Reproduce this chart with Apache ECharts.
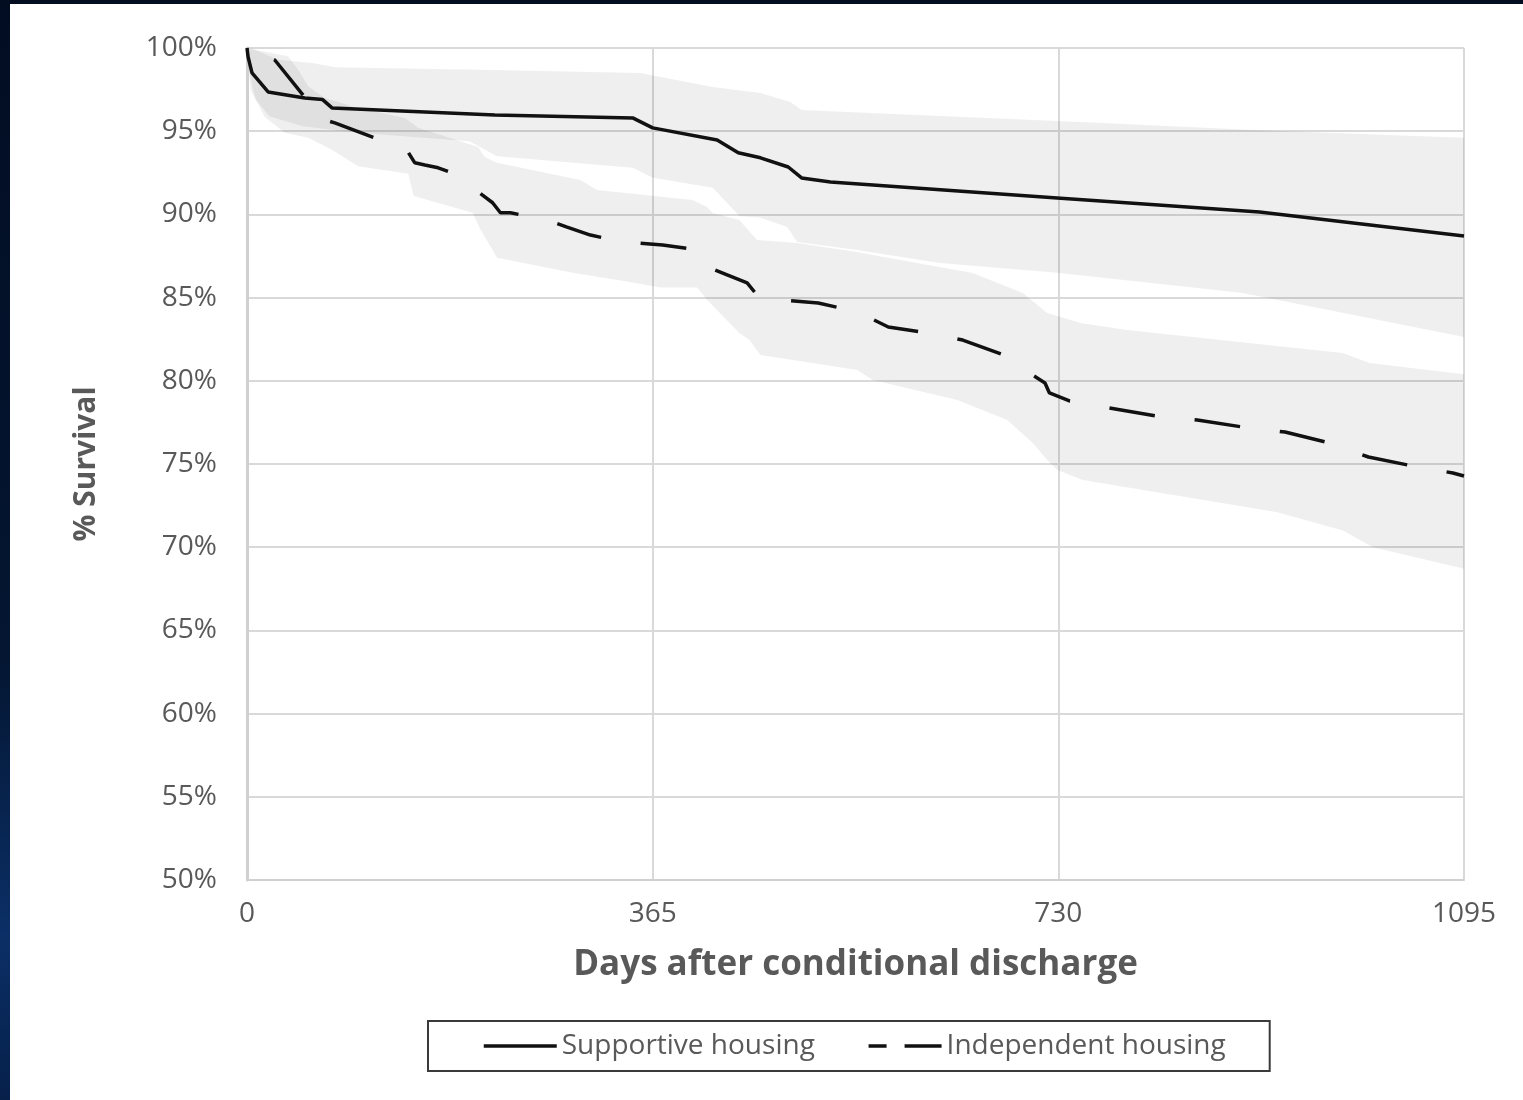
<!DOCTYPE html>
<html>
<head>
<meta charset="utf-8">
<script src="https://cdn.jsdelivr.net/npm/echarts@6/dist/echarts.min.js"></script>
<style>
  html, body { margin: 0; padding: 0; }
  body {
    width: 1523px; height: 1100px; overflow: hidden;
    background: linear-gradient(180deg, #020d22 0%, #041632 60%, #0b2f66 85%, #06204a 100%);
  }
  #chart { position: absolute; left: 10px; top: 4px; width: 1513px; height: 1096px; background: #ffffff; }
</style>
</head>
<body>
<div id="chart"></div>
<script>
// ---- Data ----
const seriesNames = ['Supportive housing', 'Independent housing'];
const xTicks = [0, 365, 730, 1095];

const supportiveDays = [0, 1, 4.5, 19, 52, 68, 76.5, 223, 347, 365, 423, 442, 462, 487, 499, 525, 729, 911, 1095];
const supportiveSurv = [100, 99.46, 98.5, 97.36, 97.0, 96.9, 96.4, 95.97, 95.8, 95.2, 94.47, 93.7, 93.4, 92.85, 92.19, 91.95, 90.99, 90.14, 88.7];

const independentDays = [0, 5, 25, 54, 58.5, 70, 79, 127, 142, 151, 160, 172, 190, 208, 221, 228, 237, 270, 288, 309, 338, 374, 406, 414, 432, 450, 462, 481, 514, 550, 577, 613, 644, 679, 704, 718, 722, 740, 776, 819, 855, 896, 934, 974, 1009, 1049, 1085, 1095];
const independentSurv = [100, 99.88, 99.28, 96.88, 96.15, 95.67, 95.5, 94.3, 94.05, 93.1, 92.97, 92.8, 92.37, 91.35, 90.7, 90.1, 90.1, 89.66, 89.24, 88.76, 88.34, 88.16, 87.86, 86.84, 86.36, 85.88, 84.9, 84.86, 84.68, 84.13, 83.23, 82.87, 82.45, 81.6, 80.47, 79.87, 79.27, 78.79, 78.37, 77.88, 77.64, 77.22, 76.92, 76.26, 75.42, 74.88, 74.46, 74.28];

// 95% confidence bands
const supportiveUpperDays = [0, 7, 28, 59, 79, 223, 354, 419, 462, 489, 499, 750, 911, 1095];
const supportiveUpperVals = [100, 99.9, 99.3, 99.1, 98.85, 98.68, 98.5, 97.66, 97.3, 96.75, 96.27, 95.55, 95.05, 94.6];
const supportiveLowerDays = [0, 2, 5, 8, 20, 50, 100, 200, 225, 347, 365, 419, 443, 462, 486, 495, 549, 623, 729, 896, 1095];
const supportiveLowerVals = [100, 98.6, 97.6, 96.9, 95.9, 95.3, 94.9, 94.4, 93.5, 92.8, 92.2, 91.6, 89.9, 89.8, 89.24, 88.34, 87.86, 87.08, 86.5, 85.28, 82.63];

const independentUpperDays = [0, 7, 37, 46, 55, 70, 97, 142, 154, 208, 214, 225, 300, 315, 401, 414, 419, 443, 459, 495, 549, 563, 653, 698, 720, 750, 792, 986, 1010, 1095];
const independentUpperVals = [100, 99.9, 99.5, 98.7, 97.7, 97.0, 96.45, 95.8, 95.2, 94.05, 93.45, 93.1, 92.07, 91.47, 90.87, 90.44, 90.08, 89.66, 88.46, 88.28, 87.74, 87.56, 86.48, 85.28, 84.07, 83.47, 83.05, 81.67, 81.07, 80.4];
const independentLowerDays = [0, 3, 16, 34, 55, 76, 100, 145, 150, 203, 210, 225, 293, 347, 372, 405, 414, 443, 452, 462, 549, 563, 639, 684, 707, 720, 729, 752, 927, 986, 1013, 1095];
const independentLowerVals = [100, 97.5, 95.85, 94.9, 94.6, 93.9, 92.9, 92.45, 91.1, 90.1, 89.1, 87.4, 86.5, 85.9, 85.6, 85.6, 84.86, 82.87, 82.45, 81.55, 80.65, 80.05, 78.85, 77.64, 76.26, 75.24, 74.64, 74.04, 72.1, 71.0, 70.0, 68.7];

// a dash of the independent-housing curve begins at this data point in the reference
const dashAnchorIndex = 38;

// ---- Build ----
const zip = (a, b) => a.map((v, i) => [v, b[i]]);
const FONT = '"Open Sans", "DejaVu Sans", sans-serif';
const TXT = '#595959';
const GRID = '#d9d9d9';
const DASH = [46, 40];

function bandSeries(upDays, upVals, loDays, loVals) {
  const upper = zip(upDays, upVals);
  const lower = zip(loDays, loVals);
  return {
    type: 'custom',
    coordinateSystem: 'cartesian2d',
    silent: true,
    clip: true,
    z: 1,
    data: [[0, 100]],
    renderItem: function (params, api) {
      const pts = upper.map(p => api.coord(p)).concat(lower.slice().reverse().map(p => api.coord(p)));
      return { type: 'polygon', shape: { points: pts }, style: { fill: 'rgba(0,0,0,0.063)' } };
    }
  };
}

const chart = echarts.init(document.getElementById('chart'), null, { renderer: 'canvas' });
const indepData = zip(independentDays, independentSurv);

function buildOption(dashOffset) {
  return {
    animation: false,
    backgroundColor: '#ffffff',
    grid: { left: 237, right: 59, top: 44, bottom: 220, containLabel: false },
    xAxis: {
      type: 'value', min: 0, max: 1095, interval: 365,
      name: 'Days after conditional discharge',
      nameLocation: 'middle', nameGap: 68,
      nameTextStyle: { fontFamily: FONT, fontSize: 35, fontWeight: 'bold', color: TXT },
      axisLine: { show: true, lineStyle: { color: '#d0d0d0', width: 2 } },
      axisTick: { show: false },
      axisLabel: { fontFamily: FONT, fontSize: 28, color: TXT, margin: 20,
        formatter: v => (xTicks.indexOf(v) >= 0 ? String(v) : '') },
      splitLine: { show: true, lineStyle: { color: GRID, width: 2 } }
    },
    yAxis: {
      type: 'value', min: 50, max: 100, interval: 5,
      name: '% Survival',
      nameLocation: 'middle', nameGap: 146, nameRotate: 90,
      nameTextStyle: { fontFamily: FONT, fontSize: 30, fontWeight: 'bold', color: TXT },
      axisLine: { show: true, lineStyle: { color: '#d0d0d0', width: 3 } },
      axisTick: { show: false },
      axisLabel: { fontFamily: FONT, fontSize: 28, color: TXT, margin: 30, formatter: '{value}%' },
      splitLine: { show: true, lineStyle: { color: GRID, width: 2 } }
    },
    legend: {
      show: true,
      data: [
        { name: seriesNames[0], itemStyle: { opacity: 0 }, lineStyle: { width: 3.5, color: '#111111' } },
        { name: seriesNames[1], itemStyle: { opacity: 0 }, lineStyle: { width: 3.5, color: '#111111', type: [37, 18], dashOffset: 19 } }
      ],
      left: 418, top: 1017,
      orient: 'horizontal',
      padding: [11, 44, 11, 54],
      borderColor: '#3a3a3a', borderWidth: 2,
      itemWidth: 73, itemHeight: 14, itemGap: 52,
      textStyle: { fontFamily: FONT, fontSize: 28, color: TXT }
    },
    series: [
      bandSeries(supportiveUpperDays, supportiveUpperVals, supportiveLowerDays, supportiveLowerVals),
      bandSeries(independentUpperDays, independentUpperVals, independentLowerDays, independentLowerVals),
      {
        name: seriesNames[0], type: 'line', z: 5,
        data: zip(supportiveDays, supportiveSurv),
        showSymbol: false, symbol: 'none',
        lineStyle: { color: '#111111', width: 3.5 },
        itemStyle: { color: '#111111' }
      },
      {
        name: seriesNames[1], type: 'line', z: 5,
        data: indepData,
        showSymbol: false, symbol: 'none',
        lineStyle: { color: '#111111', width: 3.5, type: DASH, dashOffset: dashOffset },
        itemStyle: { color: '#111111' }
      }
    ]
  };
}

chart.setOption(buildOption(0));
// align the dash phase with the reference: start a dash at the anchor point
let len = 0;
for (let i = 1; i <= dashAnchorIndex; i++) {
  const a = chart.convertToPixel({ gridIndex: 0 }, indepData[i - 1]);
  const b = chart.convertToPixel({ gridIndex: 0 }, indepData[i]);
  len += Math.hypot(b[0] - a[0], b[1] - a[1]);
}
const period = DASH[0] + DASH[1];
const offset = (period - (len % period)) % period;
chart.setOption(buildOption(offset));
</script>
</body>
</html>
